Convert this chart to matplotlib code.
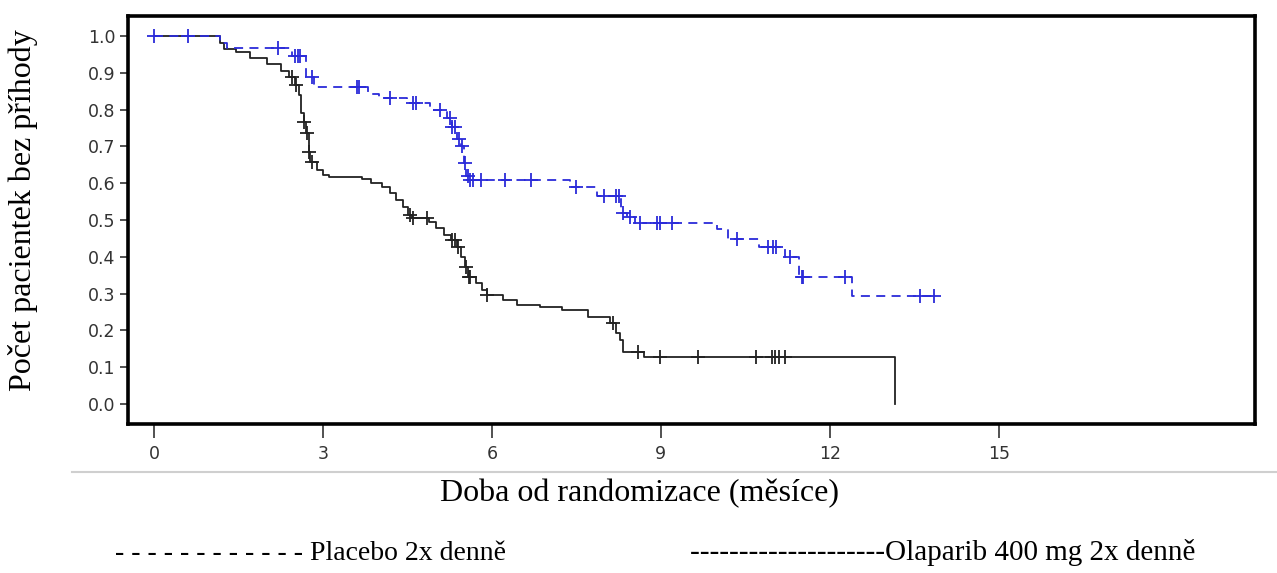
import numpy as np
import matplotlib
matplotlib.use('Agg')
import matplotlib.pyplot as plt
from matplotlib.lines import Line2D

# Olaparib arm (blue, dashed) - step points and censor times
ola_t = [0, 1.17, 1.3, 2.45, 2.7, 2.85, 3.8, 4.0, 4.5, 4.9, 5.2, 5.3, 5.38, 5.45, 5.5, 5.55, 5.6,
         7.38, 7.86, 8.3, 8.4, 8.55, 10.0, 10.2, 10.75, 11.2, 11.45, 12.4, 13.9]
ola_s = [1.0, 0.98, 0.967, 0.946, 0.889, 0.861, 0.843, 0.83, 0.818, 0.80, 0.777, 0.753, 0.72, 0.70,
         0.655, 0.62, 0.609, 0.59, 0.565, 0.52, 0.508, 0.492, 0.475, 0.448, 0.427, 0.40, 0.345, 0.293, 0.293]
ola_cens = [0, 0.6, 2.2, 2.5, 2.55, 2.6, 2.8, 3.6, 3.65, 4.2, 4.6, 4.65, 5.08, 5.25, 5.3, 5.35, 5.42,
            5.47, 5.52, 5.57, 5.62, 5.66, 5.8, 6.23, 6.7, 7.5, 8.0, 8.2, 8.25, 8.32, 8.45, 8.63, 8.93,
            8.98, 9.2, 10.35, 10.9, 11.0, 11.05, 11.3, 11.5, 11.52, 12.27, 13.6, 13.85]

# Placebo arm (black, solid)
pla_t = [0, 1.17, 1.25, 1.45, 1.7, 2.0, 2.25, 2.4, 2.5, 2.58, 2.62, 2.66, 2.7, 2.75, 2.78, 2.9, 3.0,
         3.1, 3.7, 3.85, 4.05, 4.2, 4.3, 4.42, 4.52, 4.58, 4.88, 5.0, 5.15, 5.28, 5.38, 5.45, 5.52,
         5.58, 5.72, 5.82, 5.92, 6.2, 6.45, 6.85, 7.25, 7.7, 8.1, 8.2, 8.27, 8.33, 8.7, 13.15, 13.15]
pla_s = [1.0, 0.98, 0.965, 0.957, 0.94, 0.924, 0.905, 0.889, 0.867, 0.84, 0.79, 0.766, 0.736, 0.685,
         0.658, 0.636, 0.622, 0.617, 0.61, 0.60, 0.59, 0.573, 0.554, 0.535, 0.514, 0.505, 0.495, 0.478,
         0.46, 0.445, 0.427, 0.40, 0.372, 0.345, 0.33, 0.31, 0.296, 0.283, 0.269, 0.264, 0.256, 0.237,
         0.22, 0.193, 0.174, 0.141, 0.128, 0.128, 0.0]
pla_cens = [2.45, 2.52, 2.67, 2.72, 2.76, 2.8, 4.55, 4.6, 4.85, 5.3, 5.35, 5.4, 5.55, 5.6, 5.62, 5.92,
            8.15, 8.6, 8.98, 9.66, 10.69, 10.97, 11.03, 11.1, 11.2]

x_ticks = [0, 3, 6, 9, 12, 15]
y_ticks = [0.0, 0.1, 0.2, 0.3, 0.4, 0.5, 0.6, 0.7, 0.8, 0.9, 1.0]

xlabel = 'Doba od randomizace (měsíce)'
ylabel = 'Počet pacientek bez příhody'
leg_placebo = '- - - - - - - - - - - - Placebo 2x denně'
leg_olaparib = '--------------------Olaparib 400 mg 2x denně'

blue = '#2b2bd9'


def step_value(t, s, c):
    t = np.asarray(t)
    s = np.asarray(s)
    idx = np.searchsorted(t, c, side='right') - 1
    return s[idx]


fig = plt.figure(figsize=(12.77, 5.73), dpi=100)
ax = fig.add_axes([128 / 1277, 1 - 424 / 573, (1255 - 128) / 1277, (424 - 16) / 573])

ax.step(pla_t, pla_s, where='post', color='#222222', lw=1.3)
ax.plot(pla_cens, step_value(pla_t[:-1], pla_s[:-1], pla_cens), ls='none', marker='+',
        ms=10, mew=1.3, color='#222222')

ax.step(ola_t, ola_s, where='post', color=blue, lw=1.3, dashes=(5, 3.5))
ax.plot(ola_cens, step_value(ola_t, ola_s, ola_cens), ls='none', marker='+',
        ms=10, mew=1.3, color=blue)

ax.set_xlim(-0.46, 19.55)
ax.set_ylim(-0.054, 1.054)
ax.set_xticks(x_ticks)
ax.set_yticks(y_ticks)
ax.set_xticklabels([str(v) for v in x_ticks])
ax.set_yticklabels(['%.1f' % v for v in y_ticks])
ax.tick_params(axis='x', direction='out', length=10, width=1.2, pad=5, labelsize=12.5,
               colors='#333333')
ax.tick_params(axis='y', direction='out', length=6, width=1.2, pad=3, labelsize=12.5,
               colors='#333333')
for sp in ax.spines.values():
    sp.set_linewidth(2.6)
    sp.set_color('black')

serif = ['Liberation Serif', 'DejaVu Serif']
fig.text(640 / 1277, 1 - 494 / 573, xlabel, ha='center', va='center', fontsize=23,
         family=serif)
fig.text(23 / 1277, 1 - 210 / 573, ylabel, ha='center', va='center', rotation=90,
         fontsize=23, family=serif)
fig.text(115 / 1277, 1 - 553 / 573, leg_placebo, ha='left', va='center', fontsize=20,
         family=serif)
fig.text(690 / 1277, 1 - 553 / 573, leg_olaparib, ha='left', va='center', fontsize=21,
         family=serif)

# light grey rule under the axis
fig.add_artist(Line2D([72 / 1277, 1.0], [1 - 472 / 573, 1 - 472 / 573],
                      transform=fig.transFigure, color='#cfcfcf', lw=1.5))

fig.savefig('out.png', dpi=100, facecolor='white')
